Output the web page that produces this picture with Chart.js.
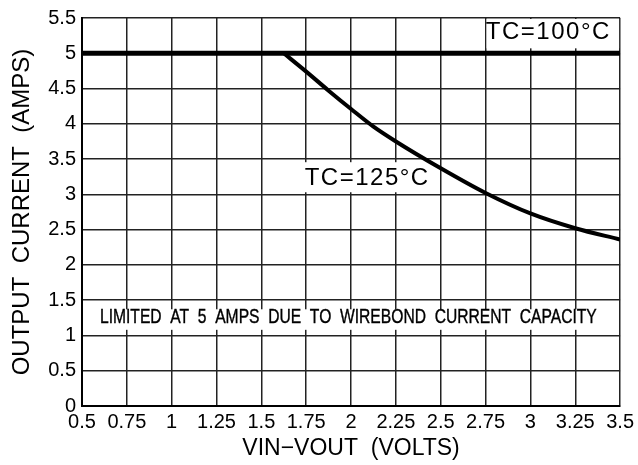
<!DOCTYPE html>
<html>
<head>
<meta charset="utf-8">
<script src="https://cdn.jsdelivr.net/npm/chart.js@4"></script>
<style>
  html, body { margin: 0; padding: 0; background: #fff; }
  #wrap { width: 638px; height: 465px; }
</style>
</head>
<body>
<div id="wrap"><canvas id="myChart"></canvas></div>
<script>
const xTickLabels = ["0.5", "0.75", "1", "1.25", "1.5", "1.75", "2", "2.25", "2.5", "2.75", "3", "3.25", "3.5"];
const yTickLabels = ["0", "0.5", "1", "1.5", "2", "2.5", "3", "3.5", "4", "4.5", "5", "5.5"];

// TC=100°C: flat at the 5 A wirebond limit
const tc100X = [0.5, 3.5];
const tc100Y = [5, 5];

// TC=125°C: derating curve
const tc125X = [1.625, 1.75, 1.875, 2, 2.125, 2.25, 2.5, 2.75, 3, 3.25, 3.5];
const tc125Y = [5, 4.74, 4.47, 4.21, 3.96, 3.75, 3.37, 3.02, 2.73, 2.52, 2.36];

const FONT = "'Liberation Sans', Arial, sans-serif";

// text labels on the plot, placed in data units
const notes = [
  { text: "TC=100°C", x: 3.10, y: 5.30, box: [2.75, 3.5, 5.5, 5.07], size: 24, spacing: 1.5 },
  { text: "TC=125°C", x: 2.09, y: 3.23, box: [1.73, 2.45, 3.47, 3.03], size: 24, spacing: 1.5 },
  { text: "LIMITED  AT  5  AMPS  DUE  TO  WIREBOND  CURRENT  CAPACITY", x: 1.985, y: 1.255,
    box: [0.55, 3.45, 1.385, 1.08], size: 21, fit: [0.60, 3.37] }
];

const toPts = (xs, ys) => xs.map((x, i) => ({ x: x, y: ys[i] }));

const notesPlugin = {
  id: "notes",
  beforeDatasetsDraw(chart) {
    const { ctx, scales: { x, y } } = chart;
    ctx.save();
    notes.forEach(n => {
      const x0 = x.getPixelForValue(n.box[0]) + 1;
      const x1 = x.getPixelForValue(n.box[1]) - 1;
      const y0 = y.getPixelForValue(n.box[2]) + 1;
      const y1 = y.getPixelForValue(n.box[3]);
      ctx.fillStyle = "#fff";
      ctx.fillRect(x0, y0, x1 - x0, y1 - y0);

      ctx.fillStyle = "#000";
      ctx.strokeStyle = "#000";
      ctx.font = n.size + "px " + FONT;
      ctx.textAlign = "center";
      ctx.textBaseline = "middle";
      const cx = x.getPixelForValue(n.x);
      const cy = y.getPixelForValue(n.y);
      if (n.fit) {
        ctx.letterSpacing = "0px";
        const w = ctx.measureText(n.text).width;
        const target = x.getPixelForValue(n.fit[1]) - x.getPixelForValue(n.fit[0]);
        ctx.save();
        ctx.translate(cx, cy);
        ctx.scale(target / w, 1);
        ctx.lineWidth = 0.4;
        ctx.fillText(n.text, 0, 0);
        ctx.strokeText(n.text, 0, 0);
        ctx.restore();
      } else {
        ctx.letterSpacing = n.spacing + "px";
        ctx.fillText(n.text, cx, cy);
      }
    });
    ctx.restore();
  }
};

new Chart(document.getElementById("myChart"), {
  type: "line",
  data: {
    datasets: [
      {
        label: "TC=100°C",
        data: toPts(tc100X, tc100Y),
        borderColor: "#000",
        borderWidth: 5,
        pointRadius: 0,
        fill: false
      },
      {
        label: "TC=125°C",
        data: toPts(tc125X, tc125Y),
        borderColor: "#000",
        borderWidth: 4,
        pointRadius: 0,
        cubicInterpolationMode: "monotone",
        fill: false
      }
    ]
  },
  options: {
    responsive: true,
    maintainAspectRatio: false,
    animation: false,
    layout: { padding: { top: 13, right: 17, left: 0, bottom: 0 } },
    plugins: {
      legend: { display: false },
      tooltip: { enabled: false }
    },
    scales: {
      x: {
        type: "linear",
        min: 0.5,
        max: 3.5,
        afterFit: s => { s.height = 59; },
        ticks: {
          stepSize: 0.25,
          autoSkip: false,
          maxRotation: 0,
          padding: 4,
          color: "#000",
          font: { family: FONT, size: 20 },
          callback: (v, i) => xTickLabels[i]
        },
        grid: { color: "#222", lineWidth: 1.5, drawTicks: false },
        border: { color: "#000", width: 2 },
        title: {
          display: true,
          text: "VIN\u2212VOUT  (VOLTS)",
          color: "#000",
          font: { family: FONT, size: 23 },
          padding: { top: 0, bottom: 3 }
        }
      },
      y: {
        min: 0,
        max: 5.5,
        afterFit: s => { s.width = 82; },
        ticks: {
          stepSize: 0.5,
          autoSkip: false,
          padding: 6,
          color: "#000",
          font: { family: FONT, size: 20 },
          callback: (v, i) => yTickLabels[i]
        },
        grid: { color: "#222", lineWidth: 1.5, drawTicks: false },
        border: { color: "#000", width: 2 },
        title: {
          display: true,
          text: "OUTPUT  CURRENT  (AMPS)",
          color: "#000",
          font: { family: FONT, size: 24 },
          padding: { top: 8, bottom: 0 }
        }
      }
    }
  },
  plugins: [notesPlugin]
});
</script>
</body>
</html>
